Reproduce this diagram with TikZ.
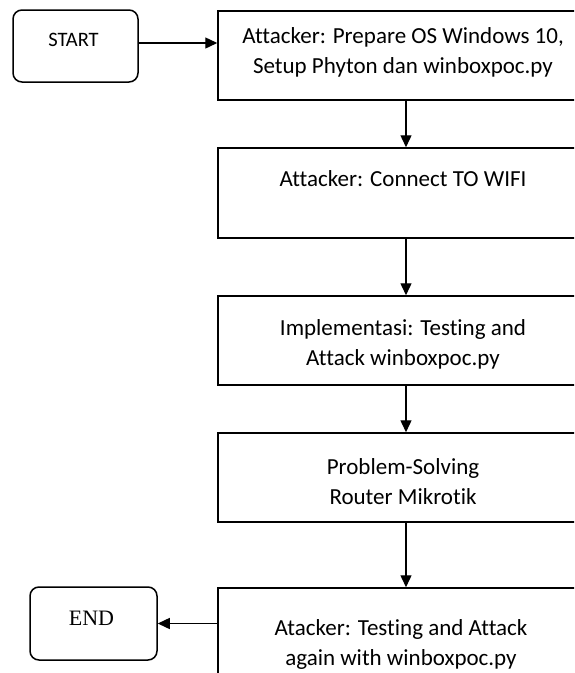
\documentclass[tikz,border=0pt]{standalone}
\usepackage{fontspec}
\setmainfont{Carlito}[Ligatures={NoCommon}]
\newfontfamily\endfont{Liberation Serif}
\usetikzlibrary{arrows.meta}
\begin{document}
\begin{tikzpicture}[x=1pt,y=-1pt,
  procbox/.style={draw, line width=1.5pt, minimum width=376pt, inner sep=0pt},
  termbox/.style={draw, line width=1.5pt, rounded corners=9pt, inner sep=0pt},
  boxtext/.style={align=center, inner sep=0pt, font=\fontsize{23}{30}\selectfont},
  arr/.style={line width=1.4pt, -{Triangle[length=12pt,width=11pt]}}]
\useasboundingbox (0,0) rectangle (574,673);
\clip (0,0) rectangle (574,673);
% terminals
\node[termbox, minimum width=125pt, minimum height=72pt] (start) at (75.5,46) {};
\node[inner sep=0pt, anchor=base, font=\fontsize{20.5}{24}\selectfont] (starttxt) at (73.5,46) {START};
\node[termbox, minimum width=127pt, minimum height=73pt] (endn) at (93.5,623.5) {};
\node[inner sep=0pt, anchor=base, font=\endfont\fontsize{22}{26}\selectfont] (endtxt) at (91.5,625) {END};
% process boxes
\node[procbox, minimum height=89pt] (box1) at (406,55.5) {};
\node[procbox, minimum height=90pt] (box2) at (406,193) {};
\node[procbox, minimum height=89pt] (box3) at (406,340.5) {};
\node[procbox, minimum height=89pt] (box4) at (406,477.5) {};
\node[procbox, minimum height=119pt] (box5) at (406,647.5) {};
% texts
\node[boxtext] (t1) at (403,52) {Attacker: Prepare OS Windows 10,\\Setup Phyton dan winboxpoc.py};
\node[boxtext, anchor=base] (t2) at (403,186) {Attacker: Connect TO WIFI};
\node[boxtext] (t3) at (403,344) {Implementasi: Testing and\\Attack winboxpoc.py};
\node[boxtext] (t4) at (403,482) {Problem-Solving\\Router Mikrotik};
\node[boxtext] (t5) at (401,644) {Atacker: Testing and Attack\\again with winboxpoc.py};
% connectors
\draw[arr] ([yshift=3pt]start.east) -- ([yshift=3pt]start.east -| box1.west);
\draw[arr] (box1.south) -- (box2.north);
\draw[arr] (box2.south) -- (box3.north);
\draw[arr] (box3.south) -- (box4.north);
\draw[arr] (box4.south) -- (box5.north);
\draw[arr] (box5.west |- endn.east) -- (endn.east);
\end{tikzpicture}
\end{document}
